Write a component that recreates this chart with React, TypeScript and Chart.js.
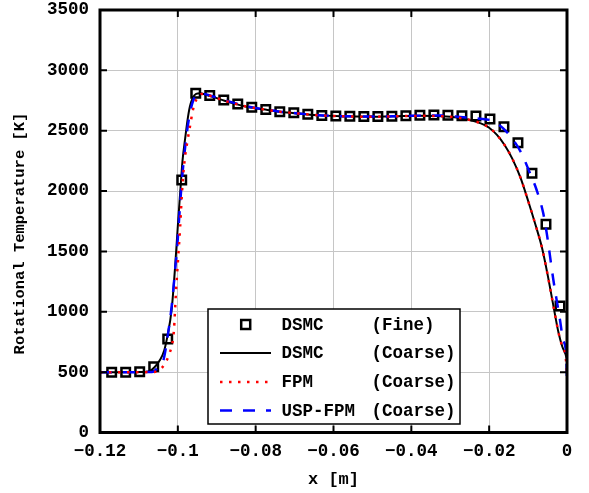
import React, { useEffect, useRef } from "react";
import { Chart, registerables } from "chart.js";

Chart.register(...registerables);

// DSMC (Fine) – square markers
const fineX = [-0.117, -0.1134, -0.1098, -0.1062, -0.1026, -0.099, -0.0954, -0.0918, -0.0882, -0.0846, -0.081, -0.0774, -0.0738, -0.0702, -0.0666, -0.063, -0.0594, -0.0558, -0.0522, -0.0486, -0.045, -0.0414, -0.0378, -0.0342, -0.0306, -0.027, -0.0234, -0.0198, -0.0162, -0.0126, -0.009, -0.0054, -0.0018];
const fineT = [500, 500, 503, 545, 775, 2092, 2810, 2792, 2755, 2722, 2694, 2676, 2658, 2648, 2636, 2627, 2622, 2620, 2618, 2618, 2620, 2624, 2628, 2630, 2628, 2624, 2622, 2597, 2533, 2401, 2147, 1725, 1048];

// DSMC (Coarse) – black solid
const dsmcX = [-0.12, -0.115, -0.11, -0.1075, -0.106, -0.1046, -0.1035, -0.1027, -0.1016, -0.1007, -0.0999, -0.0993, -0.0988, -0.0981, -0.0975, -0.0969, -0.0962, -0.0953, -0.0943, -0.093, -0.0915, -0.09, -0.088, -0.085, -0.082, -0.078, -0.074, -0.07, -0.066, -0.062, -0.058, -0.054, -0.05, -0.046, -0.042, -0.038, -0.034, -0.03, -0.027, -0.0245, -0.0225, -0.02, -0.018, -0.016, -0.014, -0.012, -0.01, -0.008, -0.0065, -0.005, -0.0035, -0.0022, -0.0012, -0.0004, 0];
const dsmcT = [500, 500, 501, 506, 540, 600, 680, 794, 1015, 1373, 1760, 2030, 2250, 2440, 2590, 2700, 2770, 2805, 2810, 2800, 2785, 2770, 2748, 2720, 2697, 2677, 2658, 2645, 2633, 2625, 2620, 2617, 2616, 2618, 2621, 2623, 2622, 2615, 2603, 2585, 2565, 2525, 2465, 2380, 2265, 2115, 1920, 1710, 1540, 1310, 1050, 830, 710, 650, 600];

// FPM (Coarse) – red dotted
const fpmX = [-0.12, -0.11, -0.106, -0.105, -0.1042, -0.1027, -0.102, -0.1014, -0.101, -0.1005, -0.0999, -0.0994, -0.099, -0.0986, -0.0982, -0.0975, -0.0968, -0.0962, -0.0956, -0.0947, -0.0939, -0.093, -0.0915, -0.09, -0.088, -0.085, -0.082, -0.078, -0.074, -0.07, -0.066, -0.062, -0.058, -0.054, -0.05, -0.046, -0.042, -0.038, -0.034, -0.03, -0.027, -0.0245, -0.0225, -0.02, -0.018, -0.016, -0.014, -0.012, -0.01, -0.008, -0.0065, -0.005, -0.0035, -0.0022, -0.0012, -0.0004, 0];
const fpmT = [500, 500, 502, 515, 532, 609, 669, 740, 850, 1150, 1456, 1705, 1950, 2140, 2270, 2420, 2550, 2660, 2732, 2782, 2804, 2802, 2787, 2771, 2749, 2721, 2698, 2677, 2658, 2645, 2633, 2625, 2620, 2617, 2616, 2618, 2621, 2623, 2622, 2615, 2603, 2585, 2565, 2525, 2465, 2380, 2265, 2115, 1920, 1710, 1540, 1310, 1050, 830, 710, 640, 500];

// USP-FPM (Coarse) – blue dashed
const uspX = [-0.12, -0.11, -0.1075, -0.1063, -0.105, -0.1037, -0.1025, -0.1016, -0.1007, -0.1001, -0.0994, -0.0988, -0.0977, -0.0969, -0.096, -0.0947, -0.0935, -0.0918, -0.0882, -0.0846, -0.081, -0.0774, -0.0738, -0.0702, -0.0666, -0.063, -0.0594, -0.0558, -0.0522, -0.0486, -0.045, -0.0414, -0.0378, -0.0342, -0.0306, -0.0275, -0.0224, -0.0198, -0.018, -0.0164, -0.0138, -0.0117, -0.0095, -0.0078, -0.0061, -0.0052, -0.0035, -0.0018, -0.001, -0.0002, 0];
const uspT = [500, 500, 502, 504, 545, 600, 822, 1042, 1346, 1567, 1899, 2147, 2478, 2644, 2755, 2804, 2805, 2792, 2755, 2722, 2694, 2676, 2658, 2647, 2636, 2627, 2621, 2619, 2617, 2617, 2619, 2622, 2625, 2626, 2624, 2614, 2600, 2589, 2560, 2520, 2423, 2313, 2147, 2009, 1816, 1650, 1263, 932, 766, 640, 400];

const xTicks = [-0.12, -0.1, -0.08, -0.06, -0.04, -0.02, 0];
const yTicks = [0, 500, 1000, 1500, 2000, 2500, 3000, 3500];

const legendNames = ["DSMC", "DSMC", "FPM", "USP-FPM"];
const legendRes = ["(Fine)", "(Coarse)", "(Coarse)", "(Coarse)"];
const yTitle = "Rotational Temperature [K]";

const FONT = '"Liberation Mono", "DejaVu Sans Mono", monospace';

const toPts = (xs: number[], ys: number[]) => xs.map((x, i) => ({ x, y: ys[i] }));

const fmtX = (v: number) => (v === 0 ? "0" : (v < 0 ? "\u2212" : "") + String(Math.abs(Math.round(v * 1000) / 1000)));

const framePlugin = {
  id: "frame",
  afterDraw(chart: any) {
    const { ctx, chartArea } = chart;
    const { left, right, top, bottom } = chartArea;
    const xs = chart.scales.x;
    const ys = chart.scales.y;
    ctx.save();
    ctx.strokeStyle = "#000";
    ctx.lineWidth = 2;
    const tl = 7;
    ctx.beginPath();
    xTicks.forEach((v) => {
      const p = xs.getPixelForValue(v);
      ctx.moveTo(p, bottom);
      ctx.lineTo(p, bottom - tl);
      ctx.moveTo(p, top);
      ctx.lineTo(p, top + tl);
    });
    yTicks.forEach((v) => {
      const p = ys.getPixelForValue(v);
      ctx.moveTo(left, p);
      ctx.lineTo(left + tl, p);
      ctx.moveTo(right, p);
      ctx.lineTo(right - tl, p);
    });
    ctx.stroke();
    ctx.lineWidth = 3;
    ctx.strokeRect(left, top, right - left, bottom - top);

    // y axis title
    ctx.save();
    ctx.translate(20, 233.5);
    ctx.rotate(-Math.PI / 2);
    ctx.fillStyle = "#000";
    ctx.font = "bold 15.5px " + FONT;
    ctx.textAlign = "center";
    ctx.textBaseline = "middle";
    ctx.fillText(yTitle, 0, 0);
    ctx.restore();

    // legend
    const bx = 208, by = 309, bw = 252, bh = 115;
    ctx.fillStyle = "#fff";
    ctx.fillRect(bx, by, bw, bh);
    ctx.lineWidth = 1.5;
    ctx.strokeStyle = "#000";
    ctx.strokeRect(bx, by, bw, bh);
    const rows = [324.5, 353, 382, 410.5];
    ctx.font = "bold 17.5px " + FONT;
    ctx.textBaseline = "middle";
    ctx.textAlign = "left";
    rows.forEach((ry, i) => {
      ctx.setLineDash([]);
      if (i === 0) {
        ctx.lineWidth = 2.5;
        ctx.strokeStyle = "#000";
        ctx.strokeRect(245.7 - 4.5, ry - 4.5, 9, 9);
      } else {
        ctx.beginPath();
        if (i === 1) {
          ctx.strokeStyle = "#000";
          ctx.lineWidth = 2;
        } else if (i === 2) {
          ctx.strokeStyle = "#ff0000";
          ctx.lineWidth = 2.5;
          ctx.setLineDash([2.5, 6.5]);
        } else {
          ctx.strokeStyle = "#0000ff";
          ctx.lineWidth = 2.5;
          ctx.setLineDash([12, 11]);
        }
        ctx.moveTo(220, ry);
        ctx.lineTo(271, ry);
        ctx.stroke();
      }
      ctx.setLineDash([]);
      ctx.fillStyle = "#000";
      ctx.fillText(legendNames[i], 281.5, ry + 1);
      ctx.fillText(legendRes[i], 371.5, ry + 1);
    });
    ctx.restore();
  },
};

export default function App() {
  const ref = useRef<HTMLCanvasElement | null>(null);
  useEffect(() => {
    if (!ref.current) return;
    const tickFont = { family: FONT, weight: "bold" as const, size: 17.5 };
    const chart = new Chart(ref.current, {
      type: "line",
      data: {
        datasets: [
          {
            label: "FPM (Coarse)",
            data: toPts(fpmX, fpmT),
            borderColor: "#ff0000",
            borderWidth: 2.5,
            borderDash: [2.5, 6.5],
            pointRadius: 0,
            cubicInterpolationMode: "monotone",
            fill: false,
          },
          {
            label: "USP-FPM (Coarse)",
            data: toPts(uspX, uspT),
            borderColor: "#0000ff",
            borderWidth: 2.5,
            borderDash: [12, 11],
            pointRadius: 0,
            cubicInterpolationMode: "monotone",
            fill: false,
          },
          {
            label: "DSMC (Coarse)",
            data: toPts(dsmcX, dsmcT),
            borderColor: "#000000",
            borderWidth: 2,
            pointRadius: 0,
            cubicInterpolationMode: "monotone",
            fill: false,
          },
          {
            label: "DSMC (Fine)",
            data: toPts(fineX, fineT),
            showLine: false,
            pointStyle: "rect",
            pointRadius: 6,
            pointBorderWidth: 2.5,
            pointBorderColor: "#000",
            pointBackgroundColor: "rgba(0,0,0,0)",
          },
        ],
      },
      options: {
        responsive: false,
        animation: false,
        layout: { padding: { top: 10, right: 22, left: 0, bottom: 0 } },
        plugins: { legend: { display: false }, tooltip: { enabled: false } },
        scales: {
          x: {
            type: "linear",
            min: -0.12,
            max: 0,
            afterBuildTicks: (s: any) => {
              s.ticks = xTicks.map((v) => ({ value: v }));
            },
            afterFit: (s: any) => {
              s.height = 60.5;
              s.paddingLeft = 0;
              s.paddingRight = 0;
            },
            grid: { color: "#c6c6c6", lineWidth: 1, drawTicks: false },
            border: { display: false },
            ticks: {
              color: "#000",
              font: tickFont,
              padding: 9,
              maxRotation: 0,
              autoSkip: false,
              callback: (v: any) => fmtX(Number(v)),
            },
            title: {
              display: true,
              text: "x [m]",
              color: "#000",
              font: { family: FONT, weight: "bold", size: 17 },
              padding: { top: 0, bottom: 3 },
            },
          },
          y: {
            type: "linear",
            min: 0,
            max: 3500,
            afterBuildTicks: (s: any) => {
              s.ticks = yTicks.map((v) => ({ value: v }));
            },
            afterFit: (s: any) => {
              s.width = 100;
              s.paddingTop = 0;
              s.paddingBottom = 0;
            },
            grid: { color: "#c6c6c6", lineWidth: 1, drawTicks: false },
            border: { display: false },
            ticks: {
              color: "#000",
              font: tickFont,
              padding: 11,
              autoSkip: false,
              callback: (v: any) => String(v),
            },
            title: { display: false },
          },
        },
      },
      plugins: [framePlugin],
    });
    return () => chart.destroy();
  }, []);
  return (
    <div style={{ position: "fixed", left: 0, top: 0, width: 589, height: 493, background: "#fff" }}>
      <canvas ref={ref} width={589} height={493} style={{ display: "block" }} />
    </div>
  );
}
